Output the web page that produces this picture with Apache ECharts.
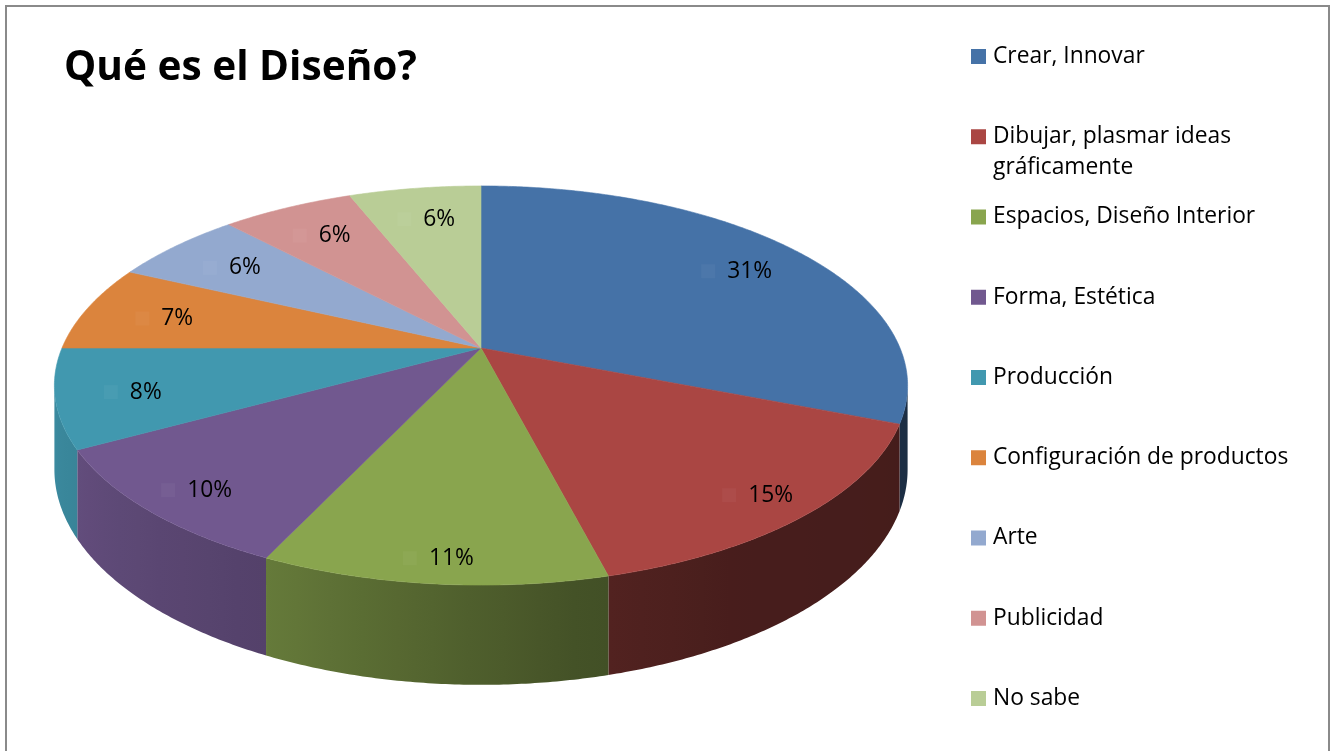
<!DOCTYPE html>
<html>
<head>
<meta charset="utf-8">
<script src="https://cdn.jsdelivr.net/npm/echarts@6/dist/echarts.min.js"></script>
<style>
  html, body { margin: 0; padding: 0; background: #ffffff; }
  #chart { width: 1336px; height: 751px; }
</style>
</head>
<body>
<div id="chart"></div>
<script>
// Survey answers: "Qué es el Diseño?"
const chartTitle = 'Qué es el Diseño?';
const categories = [
  'Crear, Innovar',
  'Dibujar, plasmar ideas gráficamente',
  'Espacios, Diseño Interior',
  'Forma, Estética',
  'Producción',
  'Configuración de productos',
  'Arte',
  'Publicidad',
  'No sabe'
];
const shares = [31, 15, 11, 10, 8, 7, 6, 6, 6];
const palette = ['#4572A7', '#AA4643', '#89A54E', '#71588F', '#4198AF', '#DB843D', '#93A9CF', '#D19392', '#B9CD96'];

const FONT = '"Open Sans", "Noto Sans", sans-serif';

// Tilted disc seen in perspective: center, radii, perspective strength, wall height
const VIEW = { cx: 481, cy: 348, rx: 419, ry: 192.5, k: 0.188, depth: 81 };

const total = shares.reduce((a, b) => a + b, 0);
const startShare = [];
shares.reduce((acc, v, i) => { startShare[i] = acc; return acc + v; }, 0);

// angle in degrees, clockwise from 12 o'clock; r in [0,1]; drop = wall depth
function project(angleDeg, r, drop) {
  const a = angleDeg * Math.PI / 180;
  const u = Math.sin(a) * r;
  const v = -Math.cos(a) * r;
  const s = 1 / (1 - VIEW.k * v);
  return [VIEW.cx + VIEW.rx * u * s, VIEW.cy + (VIEW.ry * v + drop) * s];
}

// silhouette of the side wall
const VIS0 = Math.acos(-VIEW.k) * 180 / Math.PI;
const VIS1 = 360 - VIS0;

// light falling on the outer wall, brighter to the left
const lightStops = [[95, 0.40], [150, 0.42], [170, 0.50], [205, 0.74], [241, 0.87], [265, 0.93]];
function wallLight(a) {
  if (a <= lightStops[0][0]) return lightStops[0][1];
  for (let i = 1; i < lightStops.length; i++) {
    if (a <= lightStops[i][0]) {
      const [a0, l0] = lightStops[i - 1], [a1, l1] = lightStops[i];
      return l0 + (l1 - l0) * (a - a0) / (a1 - a0);
    }
  }
  return lightStops[lightStops.length - 1][1];
}

function shade(hex, f) {
  const n = parseInt(hex.slice(1), 16);
  const ch = [(n >> 16) & 255, (n >> 8) & 255, n & 255].map(c => {
    const v = f <= 1 ? c * f : c + (255 - c) * (f - 1);
    return Math.max(0, Math.min(255, Math.round(v)));
  });
  return 'rgb(' + ch.join(',') + ')';
}

function sliceAngles(i, value) {
  const a0 = startShare[i] / total * 360;
  return [a0, a0 + value / total * 360];
}

const sliceData = shares.map((v, i) => ({ name: categories[i], value: v }));

// outer wall of one slice, one polygon with a left-to-right light gradient
function renderWall(params, api) {
  const i = params.dataIndex;
  const [start, end] = sliceAngles(i, api.value(0));
  const a0 = Math.max(start, VIS0), a1 = Math.min(end, VIS1);
  if (a1 <= a0) return { type: 'group', children: [] };
  const steps = Math.max(2, Math.ceil((a1 - a0) * 2));
  const topEdge = [], bottomEdge = [];
  for (let j = 0; j <= steps; j++) {
    const b = a0 + (a1 - a0) * j / steps;
    topEdge.push(project(b, 1, 0));
    bottomEdge.push(project(b, 1, VIEW.depth));
  }
  const xa = topEdge[0][0], xb = topEdge[steps][0];
  const stops = [];
  const nStops = Math.max(2, Math.ceil((a1 - a0) / 4));
  for (let j = 0; j <= nStops; j++) {
    const b = a0 + (a1 - a0) * j / nStops;
    const x = project(b, 1, 0)[0];
    const off = Math.abs(xb - xa) < 1e-6 ? j / nStops : (x - xa) / (xb - xa);
    stops.push({ offset: Math.max(0, Math.min(1, off)), color: shade(palette[i], wallLight(b)) });
  }
  const grad = new echarts.graphic.LinearGradient(xa, 0, xb, 0, stops, true);
  return {
    type: 'polygon',
    shape: { points: topEdge.concat(bottomEdge.reverse()) },
    style: { fill: grad }
  };
}

function renderTop(params, api) {
  const i = params.dataIndex;
  const value = api.value(0);
  const [start, end] = sliceAngles(i, value);
  const pts = [project(0, 0, 0)];
  const steps = Math.max(2, Math.ceil((end - start) * 2));
  for (let j = 0; j <= steps; j++) pts.push(project(start + (end - start) * j / steps, 1, 0));
  const mid = (start + end) / 2;
  const fwd = Math.max(0, -Math.cos(mid * Math.PI / 180));
  const lp = project(mid, 0.8 + 0.1 * fwd, 0);
  const pct = Math.round(value / total * 100) + '%';
  return {
    type: 'group',
    children: [
      {
        type: 'polygon',
        shape: { points: pts },
        style: { fill: palette[i], stroke: palette[i], lineWidth: 0.6 }
      },
      {
        type: 'text',
        z2: 50,
        style: {
          x: lp[0], y: lp[1] + 3,
          text: '{k|}{t|' + pct + '}',
          align: 'center', verticalAlign: 'middle',
          rich: {
            k: { width: 14, height: 14, backgroundColor: shade(palette[i], 1.035) },
            t: { fill: '#000000', fontFamily: FONT, fontSize: 22.8, padding: [0, 0, 0, 12] }
          }
        }
      }
    ]
  };
}

// legend and frame
const LEG = { x: 971, y0: 56.5, pitch: 80.25, box: 15, textX: 993, lineH: 31 };
const graphics = [
  {
    type: 'rect', silent: true,
    shape: { x: 6, y: 6, width: 1323, height: 770 },
    style: { fill: 'none', stroke: '#8a8a8a', lineWidth: 2 }
  },
  {
    type: 'text', left: 64, top: 48,
    style: { text: chartTitle, fill: '#000000', fontFamily: FONT, fontWeight: 'bold', fontSize: 40.6 }
  }
];
categories.forEach((name, i) => {
  const cy = LEG.y0 + i * LEG.pitch;
  graphics.push({
    type: 'rect', silent: true,
    shape: { x: LEG.x, y: cy - LEG.box / 2, width: LEG.box, height: LEG.box },
    style: { fill: palette[i] }
  });
  graphics.push({
    type: 'text', silent: true,
    style: {
      x: LEG.textX, y: cy - LEG.lineH / 2,
      text: name, width: 320, overflow: 'break',
      lineHeight: LEG.lineH,
      fill: '#000000', fontFamily: FONT, fontSize: 22.8,
      align: 'left', verticalAlign: 'top'
    }
  });
});

const chart = echarts.init(document.getElementById('chart'), null, { renderer: 'canvas' });
chart.setOption({
  backgroundColor: '#ffffff',
  animation: false,
  graphic: { elements: graphics },
  series: [
    { type: 'custom', name: 'wall', coordinateSystem: 'none', z: 1, silent: true, data: sliceData, renderItem: renderWall },
    { type: 'custom', name: 'top', coordinateSystem: 'none', z: 2, silent: true, data: sliceData, renderItem: renderTop }
  ]
});
</script>
</body>
</html>
